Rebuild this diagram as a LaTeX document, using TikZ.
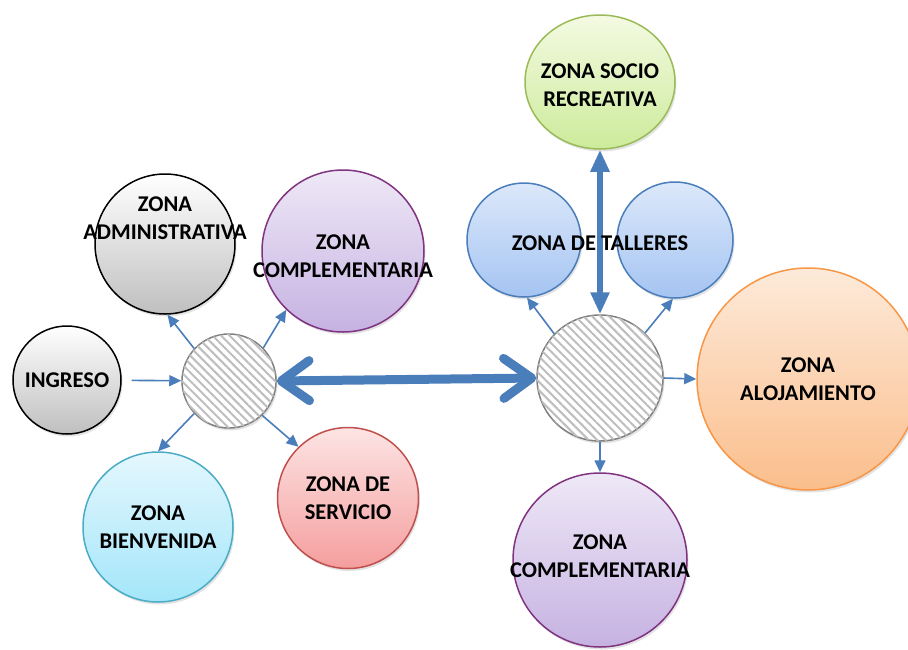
\documentclass[tikz,border=0pt]{standalone}
\usepackage{fontspec}
\setmainfont{Carlito}[BoldFont={Carlito Bold}]
\usetikzlibrary{arrows.meta,shadows,patterns.meta,shapes.geometric}

\definecolor{linkblue}{HTML}{4A7EBB}
\definecolor{hubgray}{HTML}{808080}
\definecolor{stripe}{HTML}{BEBEBE}

\begin{document}
\begin{tikzpicture}[x=1pt, y=-1pt,
  zone/.style={circle, line width=1.5pt, inner sep=0pt,
    drop shadow={opacity=0.22, shadow xshift=1.5pt, shadow yshift=-2.5pt}},
  zonetext/.style={align=center, inner sep=0pt, font=\bfseries\fontsize{22.5}{28}\selectfont},
  grayz/.style={draw=black, top color=white, bottom color=black!25},
  purplez/.style={draw=violet!60!gray, top color={rgb,255:red,238;green,232;blue,246}, bottom color={rgb,255:red,198;green,178;blue,226}},
  bluez/.style={draw=linkblue, top color={rgb,255:red,220;green,232;blue,250}, bottom color={rgb,255:red,165;green,196;blue,242}},
  greenz/.style={draw={rgb,255:red,155;green,187;blue,89}, top color={rgb,255:red,244;green,250;blue,226}, bottom color={rgb,255:red,205;green,235;blue,155}},
  orangez/.style={draw={rgb,255:red,247;green,150;blue,70}, top color={rgb,255:red,253;green,234;blue,218}, bottom color={rgb,255:red,251;green,190;blue,140}},
  redz/.style={draw={rgb,255:red,192;green,80;blue,77}, top color={rgb,255:red,253;green,228;blue,228}, bottom color={rgb,255:red,245;green,158;blue,158}},
  cyanz/.style={draw={rgb,255:red,75;green,172;blue,198}, top color={rgb,255:red,228;green,247;blue,253}, bottom color={rgb,255:red,164;green,230;blue,250}},
  hub/.style={circle, draw=hubgray, line width=1.5pt, fill=white,
    drop shadow={opacity=0.22, shadow xshift=1.5pt, shadow yshift=-2.5pt},
    postaction={pattern={Lines[angle=-45, distance=6pt, line width=2pt]}, pattern color=stripe}},
  link/.style={draw=linkblue, line width=1.6pt, -{Triangle[length=12pt, width=11pt]}},
  bigarrow/.style={draw=linkblue, line width=9pt, {Straight Barb[round, length=28pt, width=40pt]}-{Straight Barb[round, length=28pt, width=40pt]}},
  uparrow/.style={draw=linkblue, line width=6pt, {Triangle[length=22pt, width=18pt]}-{Triangle[length=22pt, width=18pt]}}
]
\useasboundingbox (0,0) rectangle (908,649);
\clip (0,0) rectangle (908,649);

% left group
\node[zone, grayz, minimum size=140pt] (admin) at (165,244) {};
\node[zone, purplez, minimum size=162pt] (compL) at (343,251) {};
\node[zone, grayz, minimum size=108pt] (ingreso) at (67,380) {};
\node[zone, cyanz, minimum size=150pt] (bienvenida) at (158,527) {};
\node[zone, redz, minimum size=141pt] (servicio) at (348,498) {};
\node[hub, minimum size=94pt] (hubL) at (229,381) {};

% right group
\node[zone, greenz, ellipse, minimum width=150pt, minimum height=134pt] (socio) at (600,82) {};
\node[zone, bluez, minimum size=114pt] (tallerL) at (524,240) {};
\node[zone, bluez, minimum size=116pt] (tallerR) at (675,240) {};
\node[zone, orangez, minimum size=222pt] (aloja) at (808,379) {};
\node[zone, purplez, minimum size=174pt] (compR) at (600,560) {};
\node[hub, minimum size=126pt] (hubR) at (600,378) {};

\draw[link] (hubL.137) -- (admin.-88);
\draw[link] (hubL.44) -- (compL.226);
\draw[link, shorten <=10pt] (ingreso) -- (hubL);
\draw[link] (hubL.223) -- (bienvenida.north);
\draw[link] (hubL.-46) -- (servicio.134);
\draw[link] (hubR.136) -- (tallerL.-87);
\draw[link] (hubR.45) -- (tallerR.-92);
\draw[link] (hubR.east) -- (aloja.west);
\draw[link] (hubR.south) -- (compR.north);
\draw[bigarrow] (hubL.east) -- (hubR.west);
\draw[uparrow] (hubR.north) -- (socio.south);

\node[zonetext] at ([yshift=26pt]admin.center) {ZONA\\ADMINISTRATIVA};
\node[zonetext] at ([yshift=-5pt]compL.center) {ZONA\\COMPLEMENTARIA};
\node[zonetext] at (ingreso) {INGRESO};
\node[zonetext] at (bienvenida) {ZONA\\BIENVENIDA};
\node[zonetext] at (servicio) {ZONA DE\\SERVICIO};
\node[zonetext] at ([yshift=-3pt]socio.center) {ZONA SOCIO\\RECREATIVA};
\node[zonetext] at (600,243) {ZONA DE TALLERES};
\node[zonetext] at (aloja) {ZONA\\ALOJAMIENTO};
\node[zonetext] at ([yshift=4pt]compR.center) {ZONA\\COMPLEMENTARIA};
\end{tikzpicture}
\end{document}
